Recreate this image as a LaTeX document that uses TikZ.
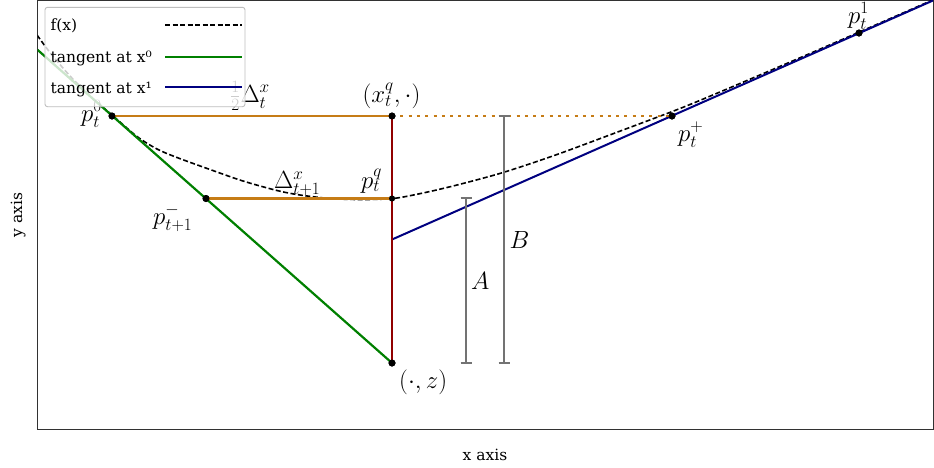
\documentclass[tikz,border=0pt]{standalone}
\usepackage[no-math]{fontspec}
\newfontfamily\lgfont{DejaVu Serif}
\definecolor{cOrange}{RGB}{198,124,22}
\definecolor{cRed}{RGB}{145,0,0}
\definecolor{cGreen}{RGB}{0,128,0}
\definecolor{cNavy}{RGB}{0,0,128}
\definecolor{cBar}{RGB}{115,115,115}
\definecolor{cFrame}{RGB}{50,50,50}
\definecolor{cLegEdge}{RGB}{190,190,190}
\begin{document}
\begin{tikzpicture}[x=1pt,y=-1pt,
  lbl/.style={font=\fontsize{25}{30}\selectfont, inner sep=0pt},
  txt/.style={font=\lgfont\fontsize{15.5}{18}\selectfont, inner sep=0pt},
  dot/.style={circle, fill=black, inner sep=0pt, minimum size=7pt},
  fcurve/.style={black, line width=1.6pt, dash pattern=on 5pt off 2.5pt},
  tang0/.style={cGreen, line width=2.2pt},
  tang1/.style={cNavy, line width=2pt},
  hline/.style={cOrange, line width=2.2pt},
  hdot/.style={cOrange, line width=2.6pt, dash pattern=on 3pt off 5.3pt},
  vline/.style={cRed, line width=2.2pt},
  bar/.style={cBar, line width=1.2pt},
]
\useasboundingbox (0,0) rectangle (934,467);
\fill[white] (0,0) rectangle (934,467);

% named coordinates
\coordinate (fl) at (37.5,0.7);
\coordinate (fr) at (933,429.5);
\coordinate (g0) at (37.5,49.8);
\coordinate (b1) at (933,0.5);
\coordinate (bq) at (392,239.5);
\coordinate (Atop) at (466,198);
\coordinate (Abot) at (466,363);
\coordinate (Btop) at (504,116);
\coordinate (Bbot) at (504,363);

% frame
\draw[cFrame, line width=1pt] (fl) rectangle (fr);

\begin{scope}
\clip (fl) rectangle (fr);
% f(x)
\draw[fcurve] plot[smooth, tension=0.5] coordinates {
 (37,35) (50,52.5) (70,76) (90,96) (112,115) (137,136.5) (157,149) (177,157.5)
 (210,169.5) (243,181) (277,190.5) (300,195) (330,198.5) (360,199.5) (393,198.5)
 (423,193) (457,185) (503,172.5) (557,154.5) (623,130) (667,113.5) (690,104.5)
 (727,89) (793,60.8) (859,32.2) (935,-1)};
% points
\node[dot] (p0) at (112,116) {};
\node[dot] (xq) at (392,116) {};
\node[dot, minimum size=6pt] (pq) at (392,198.5) {};
\node[dot] (z) at (392,363) {};
\node[dot] (pm) at (206,198.5) {};
\node[dot] (pp) at (672,116) {};
\node[dot] (p1) at (859,33) {};
% tangents
\draw[tang0] (g0) -- (z.center);
\draw[tang1] (bq) -- (b1);
% horizontal lines
\draw[hline] (p0.center) -- (xq.center);
\draw[hdot] (xq.center) -- (pp.center);
\draw[hline] (pm.center) -- (pq.center);
% vertical
\draw[vline] (xq.center) -- (z.center);
% bars
\draw[bar] (Atop) -- (Abot);
\draw[bar] ([xshift=-5.5pt]Atop) -- ([xshift=5.5pt]Atop);
\draw[bar] ([xshift=-5.5pt]Abot) -- ([xshift=5.5pt]Abot);
\draw[bar] (Btop) -- (Bbot);
\draw[bar] ([xshift=-5.5pt]Btop) -- ([xshift=5.5pt]Btop);
\draw[bar] ([xshift=-5.5pt]Bbot) -- ([xshift=5.5pt]Bbot);
% redraw dots on top
\foreach \n in {p0,xq,z,pm,pp,p1}{\fill (\n) circle (3.5pt);}
\fill (pq) circle (3pt);
\end{scope}

% labels
\node[lbl, anchor=base west] (lp0) at (81,121) {$p_t^0$};
\node[lbl, anchor=base west] (lhalf) at (230,102) {$\frac{1}{2}\Delta_t^x$};
\node[lbl, anchor=base] (lxq) at (391.5,102.5) {$(x_t^q,\cdot)$};
\node[lbl, anchor=base west] (ldel) at (274,188.3) {$\Delta_{t+1}^x$};
\node[lbl, anchor=base west] (lpq) at (361,188) {$p_t^q$};
\node[lbl, anchor=base west] (lpm) at (153,224) {$p_{t+1}^-$};
\node[lbl, anchor=base west] (lpp) at (678,141) {$p_t^+$};
\node[lbl, anchor=base west] (lp1) at (848,23) {$p_t^1$};
\node[lbl, anchor=base west] (lz) at (399,388) {$(\cdot,z)$};
\node[lbl, anchor=base west] (lA) at (471,289) {$A$};
\node[lbl, anchor=base west] (lB) at (509.5,248) {$B$};

% axis labels
\node[txt, anchor=base] (xlab) at (485,460) {x axis};
\node[txt, anchor=base, rotate=90] (ylab) at (22,215) {y axis};

% legend
\draw[cLegEdge, fill=white, fill opacity=0.8, line width=0.9pt, rounded corners=2.5pt] (45,7.3) rectangle (245,106.7);
\coordinate (s1a) at (165,25); \coordinate (s1b) at (242,25);
\coordinate (s2a) at (165,56.7); \coordinate (s2b) at (242,56.7);
\coordinate (s3a) at (165,87.3); \coordinate (s3b) at (242,87.3);
\draw[fcurve] (s1a) -- (s1b);
\draw[tang0] (s2a) -- (s2b);
\draw[tang1] (s3a) -- (s3b);
\node[txt, anchor=base west] (t1) at (50.5,30.5) {f(x)};
\node[txt, anchor=base west] (t2) at (50.5,62.5) {tangent at x⁰};
\node[txt, anchor=base west] (t3) at (50.5,93) {tangent at x¹};
\end{tikzpicture}
\end{document}
